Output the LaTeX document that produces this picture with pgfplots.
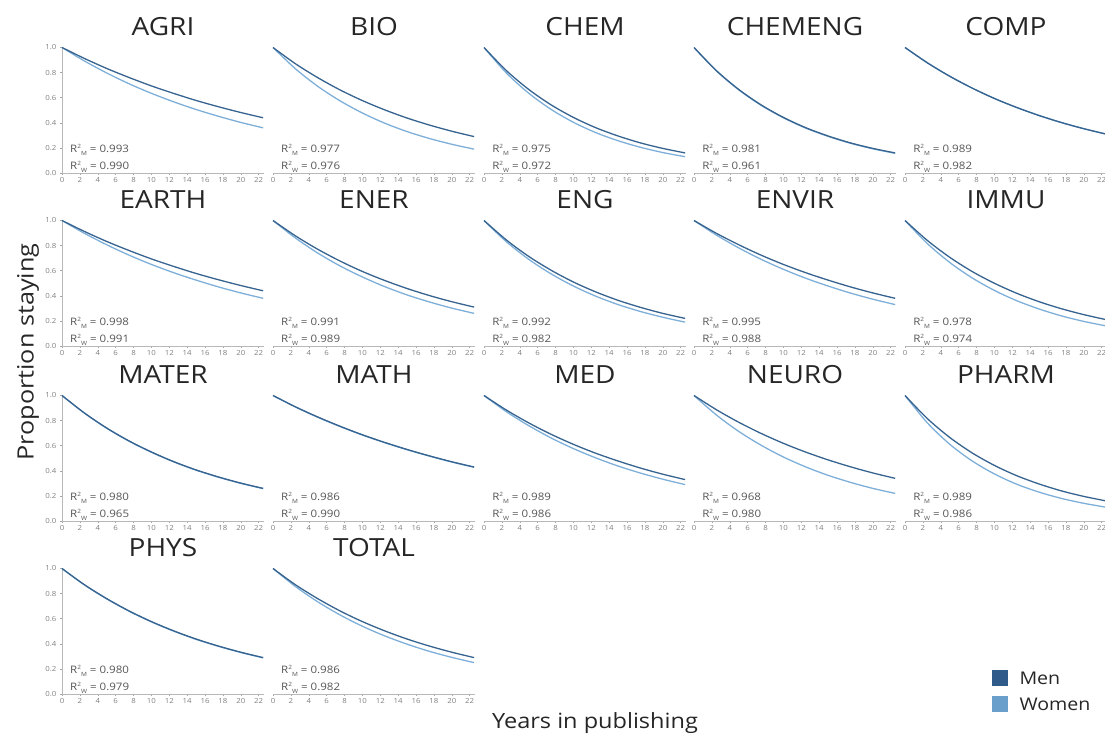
\documentclass[border=0pt]{standalone}
\usepackage{fontspec}
\setmainfont[FakeStretch=1.12]{Open Sans}
\usepackage{pgfplots}
\usepackage{pgfplotstable}
\pgfplotsset{compat=1.18}
\definecolor{menleg}{HTML}{2F5A8A}
\definecolor{womleg}{HTML}{6A9FCC}
\definecolor{mencol}{HTML}{36638F}
\definecolor{womcol}{HTML}{7EAFD9}
\definecolor{txtgray}{HTML}{555555}

% Row 1: AGRI BIO CHEM CHEMENG COMP
\pgfplotstableread{
x     agriM agriW bioM bioW chemM chemW chengM chengW compM compW
0     1     1     1    1    1     1     1      1      1     1
2.5   .913  .893  .871 .831 .816  .797  .816   .814   .878  .878
5     .833  .797  .760 .691 .666  .636  .666   .663   .771  .771
7.5   .761  .711  .662 .575 .543  .507  .543   .540   .677  .677
10    .694  .635  .577 .478 .443  .404  .443   .440   .594  .594
12.5  .634  .567  .503 .397 .361  .322  .361   .358   .522  .522
15    .578  .506  .438 .330 .295  .257  .295   .292   .458  .458
17.5  .528  .452  .382 .275 .240  .205  .240   .237   .402  .402
20    .482  .403  .333 .229 .196  .163  .196   .193   .353  .353
22.5  .440  .360  .290 .190 .160  .130  .160   .157   .310  .310
}\rowA
% Row 2: EARTH ENER ENG ENVIR IMMU
\pgfplotstableread{
x     earthM earthW enerM enerW engM engW envM envW immuM immuW
0     1      1      1     1     1    1    1    1    1     1
2.5   .913   .898   .878  .861  .845 .831 .898 .884 .841  .816
5     .833   .807   .771  .741  .714 .691 .807 .782 .707  .666
7.5   .761   .724   .677  .638  .604 .575 .724 .691 .594  .543
10    .694   .650   .594  .550  .510 .478 .650 .611 .500  .443
12.5  .634   .584   .522  .473  .431 .397 .584 .540 .420  .361
15    .578   .525   .458  .407  .364 .330 .525 .478 .353  .295
17.5  .528   .471   .402  .351  .308 .275 .471 .422 .297  .240
20    .482   .423   .353  .302  .260 .229 .423 .373 .250  .196
22.5  .440   .380   .310  .260  .220 .190 .380 .330 .210  .160
}\rowB
% Row 3: MATER MATH MED NEURO PHARM
\pgfplotstableread{
x     materM materW mathM mathW medM medW neuroM neuroW pharmM pharmW
0     1      1      1     1     1    1    1      1      1      1
2.5   .861   .860   .910  .909  .884 .871 .887   .845   .816   .782
5     .741   .739   .829  .827  .782 .760 .787   .714   .666   .612
7.5   .638   .636   .755  .753  .691 .662 .698   .604   .543   .479
10    .550   .548   .687  .685  .611 .577 .619   .510   .443   .375
12.5  .473   .471   .626  .624  .540 .503 .549   .431   .361   .293
15    .407   .405   .570  .568  .478 .438 .487   .364   .295   .230
17.5  .351   .349   .519  .517  .422 .382 .432   .308   .240   .180
20    .302   .300   .472  .470  .373 .333 .383   .260   .196   .141
22.5  .260   .258   .430  .428  .330 .290 .340   .220   .160   .110
}\rowC
% Row 4: PHYS TOTAL
\pgfplotstableread{
x     physM physW totM totW
0     1     1     1    1
2.5   .871  .870  .871 .857
5     .760  .758  .760 .735
7.5   .662  .660  .662 .630
10    .577  .575  .577 .540
12.5  .503  .501  .503 .463
15    .438  .436  .438 .397
17.5  .382  .380  .382 .340
20    .333  .331  .333 .292
22.5  .290  .288  .290 .250
}\rowD

\pgfplotsset{
  panel/.style={
    scale only axis, width=202pt, height=125.5pt,
    xmin=0, xmax=22.6, ymin=0, ymax=1,
    axis x line*=bottom,
    xtick={0,2,...,22},
    ytick={0,0.2,0.4,0.6,0.8,1.0},
    tick align=outside,
    major tick length=2pt,
    every tick/.style={black!35, line width=0.5pt},
    axis line style={black!28, line width=0.9pt, -},
    tick label style={font=\fontsize{7}{8}\selectfont, text=black!50},
    /pgf/number format/assume math mode=true,
    yticklabel style={/pgf/number format/.cd, fixed, fixed zerofill, precision=1},
    xticklabel style={yshift=1pt},
    clip=false,
    title style={font=\fontsize{25}{29}\selectfont, text=black!85, at={(0.5,1)}, anchor=base, yshift=6pt},
  },
  firstcol/.style={panel, axis y line*=left},
  othercol/.style={panel, axis y line=none, ytick=\empty},
}

\newcommand\rsq[1]{R\raisebox{4.6pt}{\fontsize{5.8}{6}\selectfont 2}\raisebox{-3pt}{\fontsize{5.8}{6}\selectfont #1}}

% #1 style, #2 x, #3 y, #4 title, #5 table, #6 men col, #7 women col, #8 R2M, #9 R2W
\newcommand\panel[9]{%
\begin{axis}[#1, at={(#2pt,#3pt)}, title={#4}]
\addplot[womcol, line width=1.3pt, smooth] table[x=x, y=#7] {#5};
\addplot[mencol, line width=1.3pt, smooth] table[x=x, y=#6] {#5};
\node[anchor=west, inner sep=0pt, text=txtgray, font=\fontsize{10.3}{12}\selectfont] at (axis cs:0.9,0.185) {\rsq{M} = #8};
\node[anchor=west, inner sep=0pt, text=txtgray, font=\fontsize{10.3}{12}\selectfont] at (axis cs:0.9,0.05) {\rsq{W} = #9};
\end{axis}}

\begin{document}
\begin{tikzpicture}[x=1pt, y=1pt]
\useasboundingbox (0,0) rectangle (1105,740);
% Row 1
\panel{firstcol}{62}{567}{AGRI}{\rowA}{agriM}{agriW}{0.993}{0.990}
\panel{othercol}{273}{567}{BIO}{\rowA}{bioM}{bioW}{0.977}{0.976}
\panel{othercol}{484}{567}{CHEM}{\rowA}{chemM}{chemW}{0.975}{0.972}
\panel{othercol}{694}{567}{CHEMENG}{\rowA}{chengM}{chengW}{0.981}{0.961}
\panel{othercol}{905}{567}{COMP}{\rowA}{compM}{compW}{0.989}{0.982}
% Row 2
\panel{firstcol}{62}{394}{EARTH}{\rowB}{earthM}{earthW}{0.998}{0.991}
\panel{othercol}{273}{394}{ENER}{\rowB}{enerM}{enerW}{0.991}{0.989}
\panel{othercol}{484}{394}{ENG}{\rowB}{engM}{engW}{0.992}{0.982}
\panel{othercol}{694}{394}{ENVIR}{\rowB}{envM}{envW}{0.995}{0.988}
\panel{othercol}{905}{394}{IMMU}{\rowB}{immuM}{immuW}{0.978}{0.974}
% Row 3
\panel{firstcol}{62}{219}{MATER}{\rowC}{materM}{materW}{0.980}{0.965}
\panel{othercol}{273}{219}{MATH}{\rowC}{mathM}{mathW}{0.986}{0.990}
\panel{othercol}{484}{219}{MED}{\rowC}{medM}{medW}{0.989}{0.986}
\panel{othercol}{694}{219}{NEURO}{\rowC}{neuroM}{neuroW}{0.968}{0.980}
\panel{othercol}{905}{219}{PHARM}{\rowC}{pharmM}{pharmW}{0.989}{0.986}
% Row 4
\panel{firstcol}{62}{46}{PHYS}{\rowD}{physM}{physW}{0.980}{0.979}
\panel{othercol}{273}{46}{TOTAL}{\rowD}{totM}{totW}{0.986}{0.982}
% Axis labels
\node[rotate=90, font=\fontsize{22.5}{26}\selectfont, text=black!85] at (28,388) {Proportion staying};
\node[font=\fontsize{21}{25}\selectfont, text=black!85] at (595,17) {Years in publishing};
% Legend
\fill[menleg] (992,54) rectangle (1008,70);
\fill[womleg] (992,28) rectangle (1008,44);
\node[anchor=west, font=\fontsize{17.5}{20}\selectfont, text=black!85] at (1016,62) {Men};
\node[anchor=west, font=\fontsize{17.5}{20}\selectfont, text=black!85] at (1016,36) {Women};
\end{tikzpicture}
\end{document}
